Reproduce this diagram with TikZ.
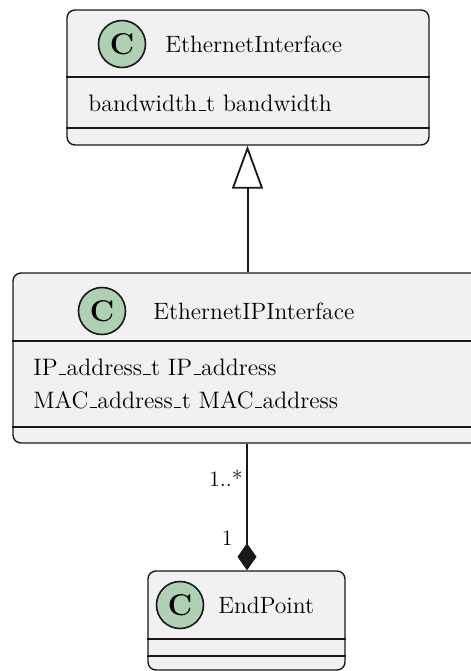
\documentclass[tikz,border=0pt]{standalone}
\usepackage{tikz}
\usetikzlibrary{arrows.meta,positioning}
\definecolor{boxfill}{HTML}{F1F1F1}
\definecolor{boxline}{HTML}{181818}
\definecolor{badgegreen}{HTML}{ADD1B2}
\newcommand{\us}{\leavevmode\kern.06em\vbox{\hrule width.3em}\kern.02em}
\tikzset{%
	classbox/.style = {draw=boxline, fill=boxfill, rounded corners=4pt, line width=0.7pt, inner sep=0pt},
	badge/.style    = {draw=boxline, fill=badgegreen, circle, line width=0.8pt, minimum size=23.5pt, inner sep=0pt, font=\fontsize{15}{15}\selectfont\bfseries},
	title/.style    = {anchor=west, inner sep=0pt, font=\fontsize{11.8}{14}\selectfont},
	member/.style   = {anchor=west, inner sep=0pt, font=\fontsize{11.9}{14}\selectfont},
	mult/.style     = {anchor=east, inner sep=0pt, font=\fontsize{11}{13}\selectfont},
	divider/.style  = {draw=boxline, line width=0.7pt},
	link/.style     = {draw=boxline, line width=1pt},
}
\begin{document}
\begin{tikzpicture}[x=0.5pt, y=-0.5pt]
		\useasboundingbox (0,0) rectangle (471,671);
		% classes
		\node[classbox, minimum width=181pt, minimum height=67.5pt] (ethif) at (248,77.5) {};
		\node[classbox, minimum width=234pt, minimum height=85pt] (ipif) at (247,358) {};
		\node[classbox, minimum width=98.5pt, minimum height=49.5pt] (endp) at (246.5,620.5) {};
		
		\node[badge] (cethif) at (122,44) {C};
		\node[title] (tethif) at (165,44) {EthernetInterface};
		\draw[divider] (ethif.west |- 0,77) -- (ethif.east |- 0,77);
		\node[member] (bw) at (88,103) {bandwidth\us t bandwidth};
		\draw[divider] (ethif.west |- 0,128) -- (ethif.east |- 0,128);
		
		\node[badge] (cipif) at (102,311) {C};
		\node[title] (tipif) at (153,311) {EthernetIPInterface};
		\draw[divider] (ipif.west |- 0,341) -- (ipif.east |- 0,341);
		\node[member] (ipa) at (33,367) {IP\us address\us t IP\us address};
		\node[member] (maca) at (33,400) {MAC\us address\us t MAC\us address};
		\draw[divider] (ipif.west |- 0,427) -- (ipif.east |- 0,427);
		
		\node[badge] (cendp) at (180,605) {C};
		\node[title] (tendp) at (218,605) {EndPoint};
		\draw[divider] (endp.west |- 0,639) -- (endp.east |- 0,639);
		\draw[divider] (endp.west |- 0,656) -- (endp.east |- 0,656);
		
		% relations
		\draw[link, -{Triangle[open, length=21.5pt, width=15.5pt, line width=0.9pt]}] (ipif.north -| 247.5,0) -- (ethif.south -| 247.5,0);
		\draw[link, -{Diamond[length=13.5pt, width=9.5pt]}] (ipif.south -| 247,0) -- (endp.north -| 247,0);
		\node[mult] (m1) at (243,478) {1..*};
		\node[mult] (m2) at (233,538) {1};
\end{tikzpicture}
\end{document}
